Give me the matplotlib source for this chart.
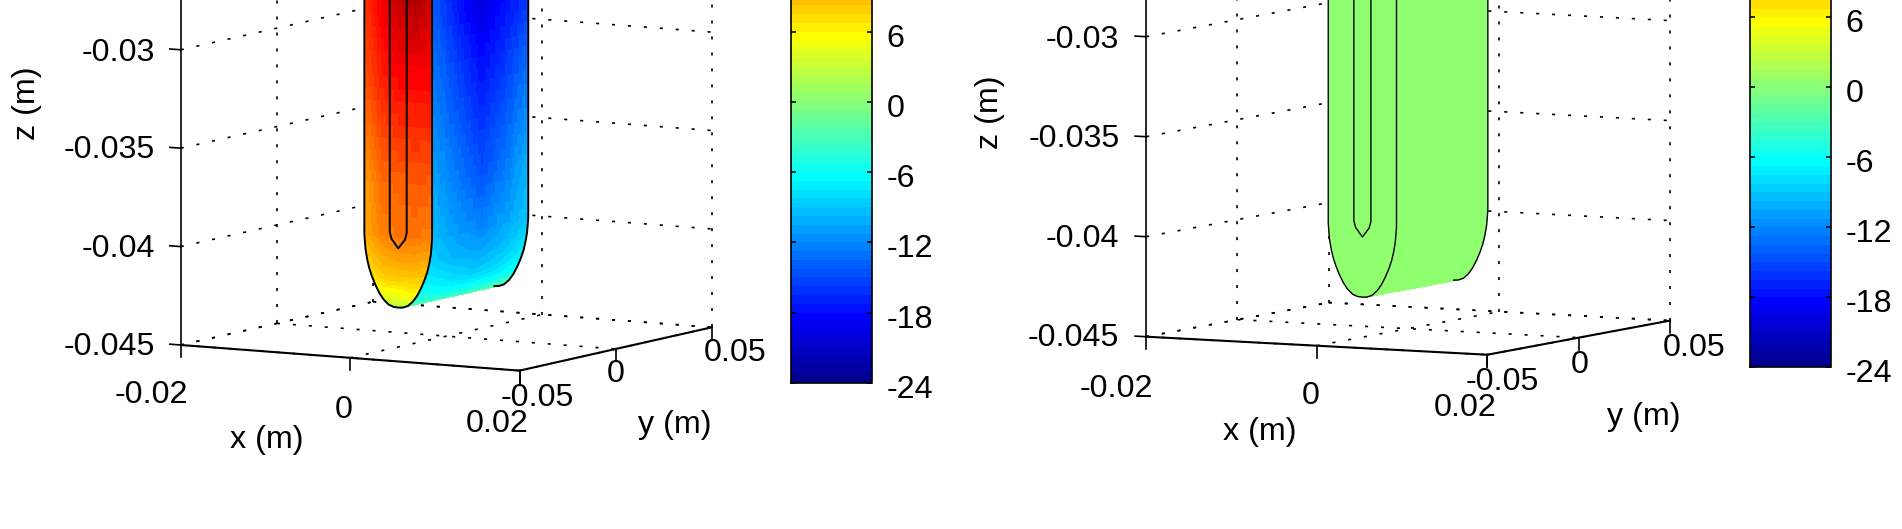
import matplotlib
matplotlib.use('Agg')
import matplotlib.pyplot as plt
import numpy as np
from matplotlib.cm import ScalarMappable
from matplotlib.colors import ListedColormap, Normalize
from matplotlib.transforms import ScaledTranslation
from mpl_toolkits.mplot3d import proj3d

plt.rcParams['font.family'] = ['Liberation Sans', 'DejaVu Sans']
plt.rcParams['lines.scale_dashes'] = False

W, H = 1902, 529
FS = 23.2

x_ticks = [-0.02, 0, 0.02]
y_ticks = [-0.05, 0, 0.05]
z_ticks = [-0.045, -0.04, -0.035, -0.03]
x_labels = ['-0.02', '0', '0.02']
y_labels = ['-0.05', '0', '0.05']
z_labels = ['-0.045', '-0.04', '-0.035', '-0.03']
cb_ticks = [-24, -18, -12, -6, 0, 6]
cb_labels = ['-24', '-18', '-12', '-6', '0', '6']

# body outline, half width against height
prof_z = [-0.025, -0.03, -0.035, -0.0394, -0.04016, -0.04067, -0.04109, -0.0415,
          -0.04191, -0.04232, -0.04264, -0.04288, -0.04298, -0.043]
prof_hw = [0.004, 0.004, 0.004, 0.004, 0.00386, 0.00366, 0.00343, 0.00311,
           0.00272, 0.00224, 0.00173, 0.00114, 0.00055, 0.0]
slot_z = [-0.025, -0.0392, -0.03953, -0.03999]
slot_hw = [0.001, 0.001, 0.00079, 0.0]
body_y = [-0.025, 0.025]

# heights the two value tables are read at
table_z = [-0.043, -0.0429, -0.0425, -0.042, -0.0415, -0.0405, -0.0392, -0.0365, -0.0305, -0.0275, -0.025]

# values on the front face, columns go left edge to right edge
front_t = [[0.5, 0.5, 0.5, 0.5, 0.5],
           [2.5, 2.5, 2.5, 2.5, 2.5],
           [4.5, 4.5, 4.5, 5, 5],
           [6, 6, 6, 6.5, 6.5],
           [7, 8, 8, 8, 8],
           [8, 9.5, 10, 10, 9.5],
           [9.5, 11.5, 12, 12, 11.5],
           [10, 12.5, 13, 13.5, 13],
           [14, 16.5, 18, 18, 18],
           [15, 18, 20, 21, 19.5],
           [16, 19, 22, 23, 21]]

# values on the side face, columns go front to back
side_t = [[-1.5, -1.5, -1, -0.5, 0],
          [-2.5, -3, -3, -2.5, -1.5],
          [-4.5, -5.5, -5.5, -5, -3.5],
          [-6, -7, -7.5, -7, -5.5],
          [-7, -8, -9, -8, -6.5],
          [-8.5, -10, -10.5, -9.5, -7.5],
          [-9.5, -11, -12, -10.5, -9],
          [-10.5, -12.5, -14.5, -12.5, -9.5],
          [-13, -15.5, -18, -16, -13.5],
          [-14, -17.5, -20, -18, -16],
          [-15, -18.5, -21, -19, -17]]

# second panel is one flat value
flat_t = [[0.0] * 5] * 11

# matlab jet, 64 levels
idx = np.arange(1, 65)
jet = ListedColormap(np.column_stack([
    np.interp(idx, [24, 40, 56, 64], [0, 1, 1, 0.5]),
    np.interp(idx, [8, 24, 40, 56], [0, 1, 1, 0]),
    np.interp(idx, [1, 8, 24, 40], [0.5625, 1, 1, 0])]))
norm = Normalize(-24, 24)

GRID = dict(color='black', lw=1.2, ls=(0, (2.2, 9.3)), zorder=1)


def shade(table, zz, cols):
    # spread the table over the fine mesh, same as interpolated shading
    table = np.asarray(table, dtype=float)
    col_pos = np.linspace(0, 1, table.shape[1])
    by_col = np.array([np.interp(zz, table_z, table[:, j]) for j in range(table.shape[1])])
    return np.array([np.interp(cols, col_pos, by_col[:, i]) for i in range(len(zz))])


def draw_panel(fig, corner, x_vec, y_vec, z_step, view, front, side, lw_body):
    az, el = view
    ax = fig.add_axes([0, 0, 0.5, 0.5], projection='3d', proj_type='ortho')
    ax.patch.set_visible(False)
    ax.set_axis_off()
    ax.computed_zorder = False
    ax.set_xlim(x_ticks[0], x_ticks[-1])
    ax.set_ylim(y_ticks[0], y_ticks[-1])
    ax.set_zlim(-0.045, -0.025)
    ax.view_init(elev=el, azim=az - 90)
    cos_az, cos_el = np.cos(np.radians(az)), np.cos(np.radians(el))
    ax.set_box_aspect((x_vec / cos_az, y_vec / np.sin(np.radians(az)), 4 * z_step / cos_el))

    # put the axes so the floor corner lands where it is in the picture
    M = ax.get_proj()
    ua, va, _ = proj3d.proj_transform(x_ticks[0], y_ticks[0], -0.045, M)
    ub, vb, _ = proj3d.proj_transform(x_ticks[-1], y_ticks[0], -0.045, M)
    fa = ax.transLimits.transform((ua, va))
    fb = ax.transLimits.transform((ub, vb))
    side_px = x_vec / (fb[0] - fa[0])
    left = corner[0] - fa[0] * side_px
    bottom = (H - corner[1]) - fa[1] * side_px
    ax.set_position([left / W, bottom / H, side_px / W, side_px / H])

    x0, x1 = x_ticks[0], x_ticks[-1]
    y0, y1 = y_ticks[0], y_ticks[-1]
    zb, zt = -0.045, -0.025

    # grid on the walls and floor
    for z in z_ticks:
        ax.plot([x0, x0], [y0, y1], [z, z], **GRID)
        ax.plot([x0, x1], [y1, y1], [z, z], **GRID)
    for x in x_ticks:
        ax.plot([x, x], [y0, y1], [zb, zb], **GRID)
    for y in y_ticks:
        ax.plot([x0, x1], [y, y], [zb, zb], **GRID)
    ax.plot([x0, x0], [y_ticks[1]] * 2, [zb, zt], **GRID)
    for x in x_ticks:
        ax.plot([x, x], [y1, y1], [zb, zt], **GRID)

    # body surfaces
    n = len(prof_z)
    rows = np.linspace(0, n - 1, (n - 1) * 8 + 1)
    zz = np.interp(rows, np.arange(n), prof_z)
    hw = np.interp(rows, np.arange(n), prof_hw)

    fr = np.linspace(-1, 1, 41)
    X = np.outer(hw, fr)
    Y = np.full_like(X, body_y[0])
    Z = np.outer(zz, np.ones_like(fr))
    ax.plot_surface(X, Y, Z, facecolors=jet(norm(shade(front, zz, (fr + 1) / 2))),
                    rstride=1, cstride=1, shade=False, antialiased=False, linewidth=0, zorder=3)

    ys = np.linspace(body_y[0], body_y[1], 41)
    X = np.outer(hw, np.ones_like(ys))
    Y = np.outer(np.ones_like(zz), ys)
    Z = np.outer(zz, np.ones_like(ys))
    ax.plot_surface(X, Y, Z, facecolors=jet(norm(shade(side, zz, (ys - body_y[0]) / (body_y[1] - body_y[0])))),
                    rstride=1, cstride=1, shade=False, antialiased=False, linewidth=0, zorder=2)

    # outlines
    hw_line = np.array(prof_hw)
    xs = np.concatenate([-hw_line, hw_line[::-1]])
    zs = np.concatenate([prof_z, prof_z[::-1]])
    ax.plot(xs, np.full_like(xs, body_y[0]), zs, color='black', lw=lw_body, zorder=4)
    slot = np.array(slot_hw)
    xs = np.concatenate([-slot, slot[::-1]])
    zs = np.concatenate([slot_z, slot_z[::-1]])
    ax.plot(xs, np.full_like(xs, body_y[0]), zs, color='black', lw=lw_body, zorder=4)
    ax.plot(hw_line, np.full_like(hw_line, body_y[1]), prof_z, color='black', lw=lw_body, zorder=2.5)

    # axes lines and ticks
    ax.plot([x0, x1], [y0, y0], [zb, zb], color='black', lw=1.5, zorder=5)
    ax.plot([x1, x1], [y0, y1], [zb, zb], color='black', lw=1.5, zorder=5)
    ax.plot([x0, x0], [y0, y0], [zb, zt], color='black', lw=1.2, zorder=5)
    tick_z = 12 / z_step * 0.005
    tick_x = 11 / x_vec * 0.04
    for x in x_ticks:
        ax.plot([x, x], [y0, y0], [zb, zb - tick_z], color='black', lw=1.2, zorder=5)
    for y in y_ticks:
        ax.plot([x1, x1], [y, y], [zb, zb - tick_z], color='black', lw=1.2, zorder=5)
    for z in z_ticks:
        ax.plot([x0 - tick_x, x0], [y0, y0], [z, z], color='black', lw=1.2, zorder=5)
    return ax


def put(fig, px, py, s, ha='center', **kw):
    fig.text(px / W, 1 - py / H, s, ha=ha, va='center', fontsize=FS, color='black', **kw)


def colorbar(fig, x0, x1, y_bottom, step):
    height = 8 * step
    cax = fig.add_axes([x0 / W, (H - y_bottom) / H, (x1 - x0) / W, height / H])
    cb = fig.colorbar(ScalarMappable(norm=norm, cmap=jet), cax=cax, ticks=cb_ticks)
    cb.set_ticklabels(cb_labels)
    cb.outline.set_linewidth(1.2)
    cax.tick_params(direction='in', length=3.5, width=1.2, left=True, right=True, labelsize=FS, pad=10.5)
    cax.minorticks_off()
    # labels sit a little under their ticks
    shift = ScaledTranslation(0, -3.5 / 100, fig.dpi_scale_trans)
    for lab in cax.get_yticklabels():
        lab.set_transform(lab.get_transform() + shift)


fig = plt.figure(figsize=(W / 100, H / 100), dpi=100)

draw_panel(fig, (180.8, 345), 338.7, 192.3, 98.4, (30.1, 7.5), front_t, side_t, 1.4)
draw_panel(fig, (1146.1, 336.7), 341.2, 182.7, 100.0, (28, 5.7), flat_t, flat_t, 1.0)

# left panel text
for s, py in zip(z_labels, [347, 249, 150, 53]):
    put(fig, 155, py, s, ha='right')
for s, px, py in zip(x_labels, [151, 344, 497], [395, 410, 424]):
    put(fig, px, py, s)
for s, px, py in zip(y_labels, [537, 616, 735], [398, 374, 353]):
    put(fig, px, py, s)
put(fig, 267, 440, 'x (m)')
put(fig, 675, 425, 'y (m)')
put(fig, 27.5, 103, 'z (m)', rotation=90)

# right panel text
for s, py in zip(z_labels, [338, 239, 139, 40]):
    put(fig, 1119.4, py, s, ha='right')
for s, px, py in zip(x_labels, [1116, 1311, 1465], [389, 396, 408]):
    put(fig, px, py, s)
for s, px, py in zip(y_labels, [1502.5, 1580, 1694], [382, 365, 348]):
    put(fig, px, py, s)
put(fig, 1260, 432, 'x (m)')
put(fig, 1644, 417, 'y (m)')
put(fig, 990, 112, 'z (m)', rotation=90)

colorbar(fig, 791, 872, 382.7, 70.2)
colorbar(fig, 1750.3, 1831, 367.3, 70.0)

fig.savefig('out.png', dpi=100, facecolor='white')
